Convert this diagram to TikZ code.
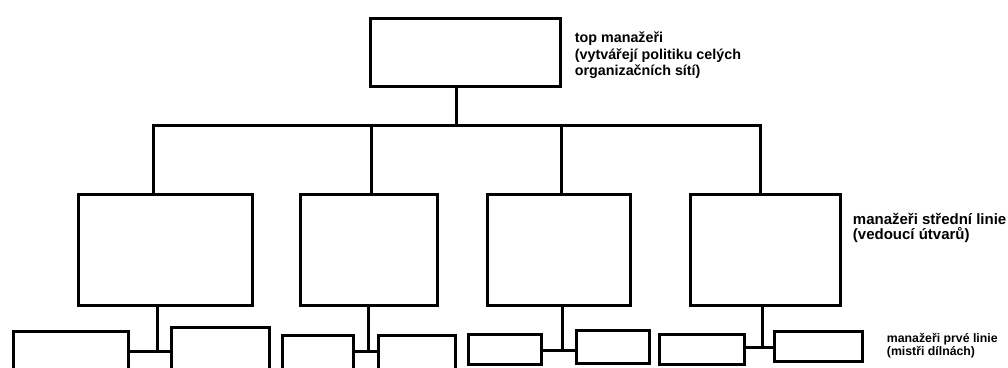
\documentclass[tikz,border=0pt]{standalone}
\usepackage{fontspec}
\setmainfont{Liberation Sans}
\usetikzlibrary{positioning}

\begin{document}
\begin{tikzpicture}[
  x=1pt, y=-1pt,
  box/.style={rectangle, draw=black, line width=3pt, inner sep=0pt, outer sep=0pt},
  note/.style={inner sep=0pt, outer sep=0pt, align=left},
  wire/.style={line width=3pt, black}
]
  \useasboundingbox (0,0) rectangle (1008,367);
  \clip (0,0) rectangle (1008,367);

  \node[box, minimum width=190pt, minimum height=68pt] (top) at (465.5,52.5) {};

  \node[box, minimum width=174pt, minimum height=111pt] (m1) at (165.5,250) {};
  \node[box, minimum width=137pt, minimum height=111pt] (m2) at (369,250) {};
  \node[box, minimum width=143pt, minimum height=111pt] (m3) at (559,250) {};
  \node[box, minimum width=150pt, minimum height=111pt] (m4) at (765.5,250) {};

  \node[box, minimum width=115pt, minimum height=42pt] (a) at (71,352.5) {};
  \node[box, minimum width=98pt, minimum height=46pt] (b) at (220.5,350.5) {};
  \node[box, minimum width=71pt, minimum height=38pt] (c) at (318,354.5) {};
  \node[box, minimum width=77pt, minimum height=38pt] (d) at (417,354.5) {};
  \node[box, minimum width=73pt, minimum height=30pt] (e) at (505,349.5) {};
  \node[box, minimum width=73pt, minimum height=33pt] (f) at (613,347) {};
  \node[box, minimum width=85pt, minimum height=30pt] (g) at (702,349.5) {};
  \node[box, minimum width=88pt, minimum height=30pt] (h) at (818.5,346.5) {};

  \coordinate (bus) at (456,125);
  \coordinate (b1) at (153,125);
  \coordinate (b2) at (371,125);
  \coordinate (b3) at (561,125);
  \coordinate (b4) at (760,125);
  \coordinate (s1) at (157,351);
  \coordinate (s2) at (368,351);
  \coordinate (s3) at (562,350);
  \coordinate (s4) at (762,347);

  \draw[wire] (top.south -| bus) -- (bus);
  \draw[wire] (m1.north -| b1) -- (b1) -- (b4) -- (m4.north -| b4);
  \draw[wire] (b2) -- (m2.north -| b2);
  \draw[wire] (b3) -- (m3.north -| b3);

  \draw[wire] (m1.south -| s1) -- (s1);
  \draw[wire] (a.east |- s1) -- (b.west |- s1);
  \draw[wire] (m2.south -| s2) -- (s2);
  \draw[wire] (c.east |- s2) -- (d.west |- s2);
  \draw[wire] (m3.south -| s3) -- (s3);
  \draw[wire] (e.east |- s3) -- (f.west |- s3);
  \draw[wire] (m4.south -| s4) -- (s4);
  \draw[wire] (g.east |- s4) -- (h.west |- s4);

  \node[note, font={\fontsize{14.3pt}{16.5pt}\selectfont\bfseries},
        below right=13.7pt and 14.4pt of top.north east] (toplbl)
        {top manažeři\\(vytvářejí politiku celých\\organizačních sítí)};
  \node[note, font={\fontsize{15pt}{15pt}\selectfont\bfseries},
        below right=18.6pt and 12.4pt of m4.north east] (midlbl)
        {manažeři střední linie\\(vedoucí útvarů)};
  \node[note, font={\fontsize{12.3pt}{10.5pt}\selectfont\bfseries},
        below right=2.3pt and 24.4pt of h.north east] (lowlbl)
        {manažeři prvé linie\\(mistři dílnách)};
\end{tikzpicture}
\end{document}
